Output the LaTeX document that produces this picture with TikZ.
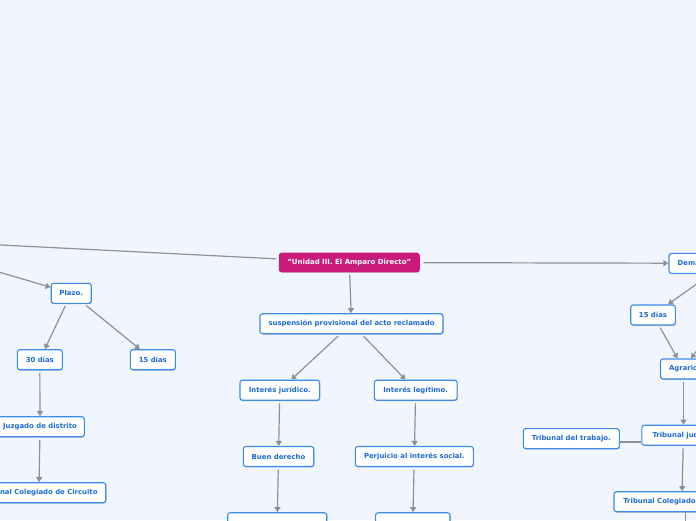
\documentclass[tikz,border=0pt]{standalone}
\usepackage{fontspec}
\setmainfont{DejaVu Sans}
\usetikzlibrary{arrows.meta,shadows}
\definecolor{bg}{HTML}{F1F5FD}
\definecolor{nodeblue}{HTML}{3A8BEA}
\definecolor{textblue}{HTML}{1C6BD3}
\definecolor{rootmag}{HTML}{CB1A7C}
\definecolor{linegray}{HTML}{8C9099}
\begin{document}
\begin{tikzpicture}[x=1pt,y=-1pt,
  box/.style={draw=nodeblue, fill=white, rounded corners=2.5pt, line width=1.1pt,
    text=textblue, font=\fontsize{6.9}{8}\selectfont\bfseries,
    minimum height=20pt, inner sep=0pt,
    drop shadow={shadow xshift=0.6pt, shadow yshift=-0.9pt, opacity=0.22, fill=black}},
  rootbox/.style={box, draw=rootmag, fill=rootmag, text=white,
    font=\fontsize{7}{8}\selectfont\bfseries, minimum height=18.5pt},
  conn/.style={draw=linegray, line width=1.2pt, shorten <=2.5pt,
    -{Triangle[width=6pt,length=5pt]}},
  plain/.style={draw=linegray, line width=1.2pt}
]
\useasboundingbox (0,0) rectangle (696,520);
\fill[bg] (0,0) rectangle (696,520);
\clip (0,0) rectangle (696,520);

% centre
\node[rootbox, minimum width=140pt] (root) at (349.3,262.5) {"Unidad III. El Amparo Directo"};
\node[box, minimum width=183pt] (susp) at (351.5,323.7) {suspensión provisional del acto reclamado};
\node[box, minimum width=79.7pt] (ij) at (279.8,390.2) {Interés jurídico.};
\node[box, minimum width=82.7pt] (il) at (415.7,390.2) {Interés legítimo.};
\node[box, minimum width=70.4pt] (bd) at (278.5,456.5) {Buen derecho};
\node[box, minimum width=118pt] (pis) at (414.3,456.5) {Perjuicio al interés social.};
\node[box, minimum width=99pt] (bl) at (277.2,522.7) {};
\node[box, minimum width=74.3pt] (br) at (412.8,522.7) {};

% left
\node[box, minimum width=40pt] (plazo) at (71.2,293.3) {Plazo.};
\node[box, minimum width=45pt] (d30) at (39.8,359.7) {30 días};
\node[box, minimum width=45pt] (d15) at (152.8,359.7) {15 días};
\node[box, minimum width=88.6pt] (jd) at (40,426.7) {Juzgado de distrito};
\node[box, minimum width=133.4pt] (tcl) at (39,492.7) {Tribunal Colegiado de Circuito};

% right
\node[box, text width=96.6pt, inner xsep=8.7pt, align=left] (dem) at (726,263.3) {Demanda de amparo};
\node[box, minimum width=44.6pt] (d15r) at (653,315) {15 días};
\node[box, minimum width=46pt] (agr) at (683.5,369) {Agrario};
\node[box, minimum width=83.4pt] (tj) at (683.5,435.2) {Tribunal judicial};
\node[box, minimum width=96pt] (tdt) at (571.3,438.6) {Tribunal del trabajo.};
\node[box, minimum width=135.6pt] (tcr) at (681.8,501.7) {Tribunal Colegiado de Circuito};

% off-picture ends
\coordinate (offL) at (-5,244.7);
\coordinate (offP) at (-30,263.5);
\coordinate (offR) at (720,318);
\coordinate (offB) at (685.5,540);

% connectors
\draw[plain, shorten >=3pt] (offL) -- (root);
\draw[conn, shorten <=3.5pt] (root) -- (dem);
\draw[conn] (root) -- (susp);
\draw[conn] (susp) -- (ij);
\draw[conn] (susp) -- (il);
\draw[conn] (ij) -- (bd);
\draw[conn] (il) -- (pis);
\draw[conn] (bd) -- (bl);
\draw[conn] (pis) -- (br);

\draw[conn] (offP) -- (plazo);
\draw[conn] (plazo) -- (d30);
\draw[conn] (plazo) -- (d15);
\draw[conn] (d30) -- (jd);
\draw[conn] (jd) -- (tcl);

\draw[conn] (dem) -- (d15r);
\draw[conn] (d15r) -- (agr);
\draw[conn] (offR) -- (agr);
\draw[conn] (agr) -- (tj);
\draw[plain] ([yshift=-3.3pt]tdt.east) -- ([yshift=-3.3pt]tdt.east -| tj.west);
\draw[conn] (tj) -- (tcr);
\draw[plain] (tcr.south -| offB) -- (offB);
\end{tikzpicture}
\end{document}
